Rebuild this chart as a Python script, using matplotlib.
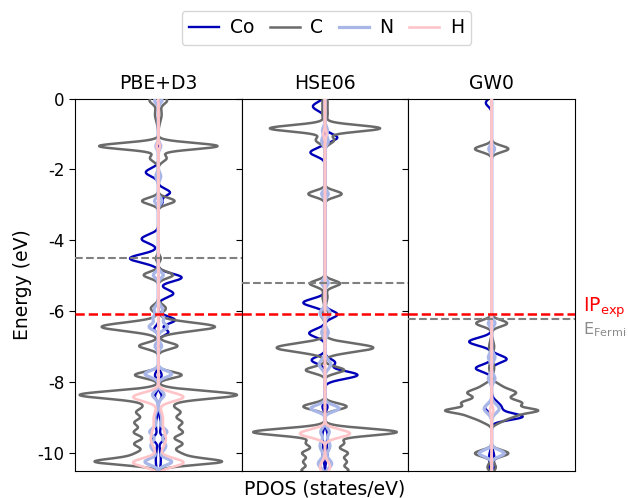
import numpy as np
import matplotlib
matplotlib.use("Agg")
import matplotlib.pyplot as plt
from matplotlib.lines import Line2D

plt.rcParams['axes.unicode_minus'] = False

# ---------------- data: PDOS peaks ----------------
# each entry: (energy eV, height in plot units, gaussian width eV)
panel_titles = ["PBE+D3", "HSE06", "GW0"]
fermi_levels = [-4.49, -5.20, -6.22]
ip_exp = -6.08
yticks = [0, -2, -4, -6, -8, -10]
species = ["Co", "C", "N", "H"]

# PBE+D3
PBE_Co_up = [(-2.65, 1.4, 0.1), (-2.92, 0.5, 0.08), (-5.05, 2.8, 0.11), (-5.5, 1.8, 0.11),
             (-6.25, 2.0, 0.1), (-6.59, 1.2, 0.09), (-7.8, 0.4, 0.1), (-8.4, 0.4, 0.1),
             (-9.2, 0.3, 0.2), (-9.6, 0.6, 0.08), (-10.2, 0.3, 0.3)]
PBE_Co_dn = [(-2.08, 1.5, 0.11), (-3.96, 2.0, 0.12), (-4.51, 3.4, 0.12), (-6.5, 0.5, 0.08),
             (-7.8, 0.4, 0.1), (-8.4, 0.4, 0.1), (-9.2, 0.3, 0.2), (-9.6, 0.6, 0.08),
             (-10.2, 0.3, 0.3)]
PBE_C = [(-0.05, 1.0, 0.1), (-0.45, 0.4, 0.2), (-1.34, 7.1, 0.09), (-1.68, 1.0, 0.1),
         (-2.89, 1.95, 0.09), (-4.51, 0.3, 0.08), (-4.98, 1.75, 0.09), (-5.92, 0.9, 0.1),
         (-6.44, 6.8, 0.12), (-6.98, 2.3, 0.09), (-7.8, 2.8, 0.09), (-8.36, 9.4, 0.11),
         (-8.62, 1.2, 0.1), (-8.85, 2.5, 0.11), (-9.14, 2.7, 0.11), (-9.42, 2.8, 0.11),
         (-9.74, 2.8, 0.11), (-10.04, 2.6, 0.11), (-10.25, 7.2, 0.09)]
PBE_N = [(-0.05, 0.45, 0.08), (-1.34, 0.3, 0.08), (-2.2, 0.3, 0.1), (-2.89, 0.45, 0.08),
         (-4.98, 0.6, 0.08), (-5.95, 0.5, 0.1), (-6.2, 0.6, 0.08), (-6.44, 1.1, 0.09),
         (-6.98, 0.4, 0.08), (-7.77, 1.6, 0.09), (-8.36, 0.7, 0.1), (-9.0, 0.4, 0.15),
         (-9.4, 1.0, 0.1), (-9.8, 0.9, 0.15), (-10.25, 1.6, 0.09)]
PBE_H = [(-1.34, 0.2, 0.08), (-8.42, 3.0, 0.12), (-9.0, 0.5, 0.2), (-9.6, 0.9, 0.25),
         (-10.27, 3.0, 0.12)]

# HSE06
HSE_Co_up = [(-1.1, 1.48, 0.1), (-6.09, 1.5, 0.1), (-7.45, 1.2, 0.1), (-7.8, 3.9, 0.11),
             (-8.7, 0.3, 0.1), (-9.5, 0.3, 0.15), (-10.0, 0.3, 0.2)]
HSE_Co_dn = [(-0.22, 1.45, 0.12), (-1.52, 1.75, 0.11), (-5.76, 2.6, 0.11), (-6.62, 1.9, 0.11),
             (-7.38, 1.6, 0.1), (-8.7, 0.3, 0.1), (-9.5, 0.3, 0.15), (-10.0, 0.3, 0.2)]
HSE_C = [(-0.1, 0.3, 0.15), (-0.45, 0.3, 0.15), (-0.84, 6.6, 0.09), (-1.17, 1.1, 0.1),
         (-2.69, 2.0, 0.09), (-5.22, 1.8, 0.09), (-5.6, 0.3, 0.15), (-6.1, 0.5, 0.1),
         (-7.03, 5.8, 0.12), (-7.66, 2.3, 0.09), (-8.69, 2.6, 0.09), (-9.41, 8.6, 0.1),
         (-9.72, 2.2, 0.1), (-10.0, 2.6, 0.1), (-10.25, 2.4, 0.1), (-10.5, 2.7, 0.1)]
HSE_N = [(-0.9, 0.3, 0.1), (-1.2, 0.4, 0.1), (-2.69, 0.4, 0.08), (-5.2, 0.4, 0.08),
         (-6.05, 0.6, 0.1), (-6.6, 0.4, 0.1), (-7.5, 0.7, 0.12), (-8.74, 1.7, 0.09),
         (-9.4, 0.5, 0.1), (-9.8, 0.6, 0.15), (-10.3, 0.8, 0.12)]
HSE_H = [(-1.0, 0.2, 0.1), (-9.45, 3.0, 0.11), (-10.4, 0.6, 0.15)]

# GW0
GW_Co_up = [(-7.35, 1.8, 0.1), (-8.72, 1.2, 0.15), (-8.98, 3.45, 0.09),
            (-10.1, 0.3, 0.15), (-10.4, 0.3, 0.1)]
GW_Co_dn = [(-0.12, 0.7, 0.1), (-6.86, 2.7, 0.11), (-7.61, 1.9, 0.1), (-8.72, 0.8, 0.1),
            (-10.1, 0.3, 0.15), (-10.4, 0.3, 0.1)]
GW_C = [(-1.42, 2.0, 0.09), (-6.34, 1.85, 0.09), (-7.0, 0.3, 0.15), (-7.6, 0.3, 0.15),
        (-8.12, 1.0, 0.1), (-8.3, 2.5, 0.09), (-8.45, 0.6, 0.1), (-8.6, 3.4, 0.1),
        (-8.8, 4.5, 0.07), (-8.95, 2.5, 0.09), (-9.12, 0.8, 0.08), (-10.01, 2.0, 0.09),
        (-10.4, 0.5, 0.1)]
GW_N = [(-1.42, 0.35, 0.08), (-6.34, 0.4, 0.08), (-7.3, 0.4, 0.1), (-7.9, 0.4, 0.1),
        (-8.75, 0.9, 0.12), (-10.01, 1.5, 0.09)]
GW_H = [(-8.8, 0.2, 0.1)]

panels = [
    (PBE_Co_up, PBE_Co_dn, PBE_C, PBE_N, PBE_H),
    (HSE_Co_up, HSE_Co_dn, HSE_C, HSE_N, HSE_H),
    (GW_Co_up, GW_Co_dn, GW_C, GW_N, GW_H),
]

# ---------------- styles ----------------
col_Co = "#0000b8"
col_C = "#6a6a6a"
col_N = "#a9b7e8"
col_H = "#ffc4c8"


def broaden(energy, peaks):
    out = np.zeros_like(energy)
    for e0, h, w in peaks:
        out += h * np.exp(-(energy - e0) ** 2 / (2 * w ** 2))
    return out


energy = np.linspace(-10.7, 0.2, 3000)

fig = plt.figure(figsize=(6.28, 4.98), dpi=100)
axes = fig.subplots(1, 3, sharey=True)
fig.subplots_adjust(left=0.1194, right=0.9156, top=0.802, bottom=0.0548, wspace=0)

for i, ax in enumerate(axes):
    co_up, co_dn, c, n, h = panels[i]
    up = broaden(energy, co_up)
    dn = broaden(energy, co_dn)
    dc = broaden(energy, c)
    dnn = broaden(energy, n)
    dh = broaden(energy, h)
    ax.plot(up, energy, color=col_Co, lw=1.7, zorder=2)
    ax.plot(-dn, energy, color=col_Co, lw=1.7, zorder=2)
    ax.plot(dc, energy, color=col_C, lw=1.8, zorder=3)
    ax.plot(-dc, energy, color=col_C, lw=1.8, zorder=3)
    ax.plot(dnn, energy, color=col_N, lw=2.3, zorder=4)
    ax.plot(-dnn, energy, color=col_N, lw=2.3, zorder=4)
    ax.plot(dh, energy, color=col_H, lw=1.9, zorder=5)
    ax.plot(-dh, energy, color=col_H, lw=1.9, zorder=5)
    ax.axhline(fermi_levels[i], color="#808080", ls="--", lw=1.5, zorder=6)
    ax.axhline(ip_exp, color="red", ls="--", lw=1.8, zorder=7)
    ax.set_xlim(-10, 10)
    ax.set_ylim(-10.5, 0)
    ax.set_xticks([])
    ax.set_title(panel_titles[i], fontsize=13.5, pad=7)
    ax.set_yticks(yticks)
    ax.tick_params(axis="y", labelsize=12, length=4)

axes[0].set_yticklabels([str(t) for t in yticks])
axes[0].set_ylabel("Energy (eV)", fontsize=13.5)
axes[1].set_xlabel("PDOS (states/eV)", fontsize=13.5, labelpad=6)

handles = [Line2D([], [], color=col_Co, lw=1.7),
           Line2D([], [], color=col_C, lw=1.8),
           Line2D([], [], color=col_N, lw=2.3),
           Line2D([], [], color=col_H, lw=1.9)]
fig.legend(handles, species, loc="upper center", ncol=4, fontsize=13.5,
           bbox_to_anchor=(0.52, 0.997), handlelength=1.6, columnspacing=0.85,
           handletextpad=0.55, borderpad=0.4, frameon=True)

fig.text(0.928, 1 - 312 / 498, r"IP$_{\rm exp}$", color="red", fontsize=13.5,
         ha="left", va="baseline")
fig.text(0.928, 1 - 334 / 498, r"E$_{\rm Fermi}$", color="#8a8a8a", fontsize=11.5,
         ha="left", va="baseline")

fig.savefig("out.png", dpi=100)
